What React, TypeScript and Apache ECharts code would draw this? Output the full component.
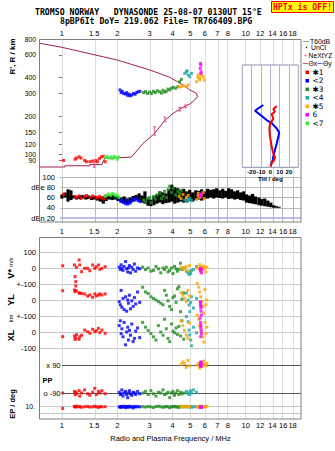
import React, { useEffect, useRef } from "react";
import * as echarts from "echarts";

// ---------------- tick labels ----------------
const FREQ_TICKS = [1, 1.5, 2, 3, 4, 5, 6, 7, 8, 10, 12, 14, 16, 18];
const HEIGHT_TICKS = [80, 90, 100, 120, 150, 200, 300, 400, 600, 800];
const DB_TICKS = [20, 40, 60, 80, 100];
const PP_TICKS = [90, -90];
const EP_TICKS = [0.1, 10];

const TITLE1 = "TROMSO NORWAY   DYNASONDE 25-08-07 0130UT 15°E";
const TITLE2 = "8pBP6It DoY= 219.062 File= TR766409.BPG";

// ---------------- N(h) profile (MHz, km) ----------------
const PROFILE_F = [0.76, 1.038, 1.038, 1.42, 1.42, 1.65, 1.71, 2.39, 2.76, 3.2, 3.63, 4.03, 4.38, 4.72, 4.96, 5.28, 5.46, 5.4, 4.96, 4.56, 3.86, 3.01, 2.0, 1.0, 0.76];
const PROFILE_H = [80, 80, 81.8, 81.8, 83.5, 83.5, 93.5, 95.6, 122, 147, 185, 210, 227, 240, 248, 267, 283, 301, 320, 350, 402, 458, 548, 689, 740];
const ERR_F = [1.5, 3.2, 3.63, 4.38, 4.72];
const ERR_LO = [79.6, 142, 181, 219, 232];
const ERR_HI = [86.4, 165, 196, 234, 244];

// ---------------- echoes: frequency, virtual height, amplitude ----------------
const TF1 = [1.02, 1.18, 1.2, 1.24, 1.27, 1.33, 1.36, 1.42, 1.47, 1.53, 1.56, 1.6, 1.64, 1.68, 1.72];
const TH1 = [90, 92, 94, 96, 94, 90, 88, 88, 89, 90, 88, 93, 96, 97, 88];
const TA1 = [66, 62, 60, 63, 58, 62, 64, 60, 63, 61, 59, 62, 60, 57, 63];
const TF2 = [2.07, 2.1, 2.13, 2.17, 2.22, 2.25, 2.28, 2.32, 2.35, 2.4, 2.45, 2.5, 2.55, 2.6, 2.66];
const TH2 = [320, 305, 312, 300, 297, 305, 290, 297, 288, 292, 300, 296, 305, 310, 312];
const TA2 = [56, 52, 54, 50, 48, 55, 47, 51, 49, 53, 57, 55, 58, 54, 52];
const TF3 = [2.78, 2.85, 2.92, 3.0, 3.07, 3.15, 3.22, 3.3, 3.4, 3.48, 3.55, 3.62, 3.7, 3.78, 3.86, 3.95, 4.03, 4.15, 4.28, 4.37, 4.47];
const TH3 = [305, 310, 300, 308, 300, 312, 305, 315, 310, 302, 318, 308, 312, 325, 320, 330, 335, 330, 339, 371, 387];
const TA3 = [55, 52, 58, 60, 50, 62, 57, 65, 68, 58, 63, 72, 60, 75, 82, 70, 78, 65, 72, 68, 74];
const TF4 = [4.66, 4.76, 4.8, 4.86, 4.96, 5.07];
const TH4 = [431, 444, 452, 419, 406, 431];
const TA4 = [55, 57, 52, 56, 58, 54];
const TF5 = [4.34, 4.45, 4.56, 4.76, 4.86, 5.4, 5.52, 5.63, 5.75, 5.87, 5.95, 5.63, 5.5];
const TH5 = [339, 339, 345, 339, 350, 371, 419, 394, 419, 406, 383, 383, 400];
const TA5 = [62, 58, 66, 60, 64, 56, 68, 62, 65, 70, 58, 60, 63];
const TF6 = [5.68, 5.7, 5.66, 5.72, 5.7];
const TH6 = [516, 501, 472, 444, 431];
const TA6 = [62, 66, 64, 67, 63];
const TF7 = [1.72, 1.76, 1.8, 1.84, 1.88, 1.92, 1.96, 2.0, 2.04];
const TH7 = [95, 97, 94, 96, 93, 97, 95, 92, 96];
const TA7 = [62, 65, 67, 64, 68, 66, 63, 65, 60];

const MODE_LABELS = ["✱1", "<2", "✱3", "<4", "✱5", "6", "<7"];
const LABEL_F = [1.39, 2.37, 4.11, 5.07, 5.35, 5.95, 1.88];
const LABEL_H = [88, 278, 320, 409, 343, 431, 90];
const LABEL_TEXT = ["✱1", "<2", "✱3", "<4", "✱5", "6", "<7"];

// ---------------- all-echo amplitude band (dB) ----------------
const DB_F = [1.0, 1.04, 1.08, 1.12, 1.16, 1.2, 1.25, 1.3, 1.35, 1.4, 1.45, 1.5, 1.56, 1.62, 1.68, 1.74, 1.81, 1.88, 1.95, 2.02, 2.1, 2.18, 2.26, 2.35, 2.44, 2.53, 2.63, 2.73, 2.83, 2.94, 3.05, 3.17, 3.29, 3.41, 3.54, 3.68, 3.82, 3.96, 4.11, 4.27, 4.43, 4.6, 4.78, 4.96, 5.15, 5.35, 5.55, 5.76, 5.98, 6.21, 6.45, 6.7, 6.95, 7.22, 7.5, 7.78, 8.08, 8.39, 8.71, 9.04, 9.39, 9.75, 10.1, 10.5, 10.9, 11.3, 11.8, 12.2, 12.7, 13.2, 13.7, 14.2, 14.7, 15.2];
const DB_LO = [58, 60, 52, 55, 58, 56, 57, 58, 56, 57, 55, 56, 54, 52, 48, 53, 56, 55, 56, 53, 50, 49, 47, 50, 52, 55, 53, 50, 48, 44, 43, 45, 48, 50, 47, 49, 50, 52, 48, 50, 52, 50, 51, 53, 52, 55, 56, 54, 57, 58, 60, 58, 60, 59, 58, 60, 57, 58, 56, 57, 55, 54, 50, 49, 48, 47, 45, 44, 43, 42, 41, 40, 40, 40];
const DB_HI = [66, 70, 76, 74, 64, 63, 64, 65, 62, 64, 62, 63, 61, 60, 62, 63, 64, 66, 64, 62, 60, 62, 58, 60, 63, 65, 68, 64, 72, 58, 56, 62, 66, 72, 70, 68, 76, 85, 80, 78, 74, 77, 72, 75, 70, 74, 73, 76, 72, 77, 75, 76, 78, 74, 77, 73, 78, 76, 72, 74, 70, 72, 66, 64, 67, 62, 60, 57, 58, 54, 50, 45, 43, 42];

// ---------------- velocities / location / polarization / EP ----------------
const LF1 = [1.01, 1.17, 1.18, 1.19, 1.2, 1.24, 1.25, 1.28, 1.33, 1.38, 1.42, 1.47, 1.51, 1.54, 1.58, 1.61, 1.65, 1.72];
const VS1 = [14, 19, -54, -85, 4, 50, 19, -23, -2, -2, -17, 19, -2, 8, 19, -8, -2, 8];
const YL1 = [58, 63, 52, 88, 58, 45, 42, 40, 38, 25, 31, 17, 38, 25, 31, 38, 31, 38];
const XL1 = [-29, -25, -46, -38, -17, -46, -30, -20, 12, 2, -8, 17, 2, 8, 23, -4, 12, -8];
const PP1 = [-90, -80, -100, -85, -95, -75, -110, -90, -70, -95, -105, -85, -60, -100, -80, -90, -75, -95];
const EP1 = [3, 12, 10, 8, 14, 9, 11, 7, 10, 12, 8, 9, 13, 10, 6, 11, 9, 10];

const LF2 = [2.05, 2.08, 2.1, 2.12, 2.15, 2.18, 2.22, 2.25, 2.28, 2.3, 2.33, 2.36, 2.4, 2.44, 2.48, 2.52, 2.58, 2.65];
const VS2 = [5, -10, 20, 0, -15, 10, 40, -5, -25, 0, 15, -30, 5, -10, 25, -20, 0, -5];
const YL2 = [-10, -30, 60, -45, 10, -60, 20, -70, 0, -20, 30, -55, -5, -40, 15, -25, 50, -15];
const XL2 = [40, 70, -10, 20, -30, 60, -80, 0, 30, -50, 10, -20, 50, -60, -40, 5, 25, -35];
const PP2 = [-85, -100, -95, -70, -110, -90, -80, -100, -120, -90, -75, -95, -105, -85, -90, -100, -80, -95];
const EP2 = [10, 6, 12, 9, 8, 14, 5, 11, 10, 7, 13, 9, 10, 4, 12, 8, 11, 9];

const LF3 = [2.75, 2.85, 2.95, 3.05, 3.15, 3.25, 3.35, 3.45, 3.55, 3.62, 3.7, 3.78, 3.86, 3.95, 4.02, 4.1, 4.18, 4.25, 4.33, 4.42, 4.5, 4.6];
const VS3 = [5, -10, 0, -20, -15, 10, -5, -30, 0, -10, 5, -25, -15, 0, -35, 10, -5, -20, -8, 30, -10, 0];
const YL3 = [80, 50, 40, 20, 10, 0, -10, -20, -30, 60, 30, -5, -40, -60, 15, 25, -15, 70, 83, -73, 5, 45];
const XL3 = [60, 30, 10, -10, -30, -50, 40, 0, -20, 80, 20, -40, -60, 50, 5, -5, 25, -15, 35, -25, 70, -45];
const PP3 = [-90, -80, -100, -75, -95, -110, -85, -90, -70, -100, -95, -85, -120, -90, -80, -105, -90, -75, -100, -85, -95, -90];
const EP3 = [10, 8, 12, 9, 6, 11, 14, 10, 7, 9, 12, 10, 5, 11, 9, 13, 8, 10, 6, 12, 9, 10];

const LF4 = [4.76, 4.86, 4.92, 4.96, 5.02, 5.07, 5.2, 5.4];
const VS4 = [-20, -30, -40, -25, -35, -15, -10, 10];
const YL4 = [42, 0, -31, -73, -15, 20, -50, 10];
const XL4 = [96, 64, 12, -19, -50, -86, 30, -5];
const PP4 = [-80, -95, -85, -100, -75, -90, -70, -85];
const EP4 = [10, 8, 12, 9, 11, 7, 10, 9];

const LF5 = [4.45, 4.55, 4.65, 4.75, 4.85, 4.95, 5.45, 5.55, 5.62, 5.7, 5.78, 5.85, 5.92, 6.0, 6.08, 6.15];
const VS5 = [5, -10, 0, 10, -20, 15, 0, -5, 20, -15, 8, -10, 12, 0, -25, 5];
const YL5 = [45, 30, 10, -10, 60, 25, 104, 80, 50, 20, -10, -40, -81, 65, -30, 0];
const XL5 = [70, 40, 10, -20, -40, 55, 106, 80, 40, 20, 0, -30, -63, 60, -10, 30];
const PP5 = [95, 110, 100, 75, 120, 85, 90, 100, 70, 105, 80, 95, 115, 90, 85, 100];
const EP5 = [10, 12, 8, 14, 9, 11, 10, 7, 13, 9, 12, 10, 8, 11, 9, 14];

const LF6 = [5.66, 5.68, 5.7, 5.72, 5.74, 5.69, 5.71];
const VS6 = [-5, 0, -15, -10, -31, -20, -8];
const YL6 = [-10, -30, -50, -70, -94, -20, -40];
const XL6 = [87, 60, 30, 10, -10, -29, 45];
const PP6 = [90, 100, 80, 110, 95, 85, 105];
const EP6 = [8, 10, 6, 9, 7, 8, 9];

// ---------------- tilt inset (deg vs km) ----------------
const TILT_X_H = [240, 226, 216, 207, 192, 181, 173, 160, 138, 115, 102, 96, 91, 85.5, 80.4];
const TILT_X = [6.8, 3.2, 5, 1.5, 3.2, 1.5, -0.3, -1, -0.3, 1.5, 3.2, 5, 4.3, 1.5, 0.4];
const TILT_Y_H = [244, 230, 220, 210, 200, 186, 176, 160, 148, 138, 122.5, 108.6, 96.3, 90.7, 82.9];
const TILT_Y = [-7.5, -12.8, -16.4, -12.8, -9.2, -3.9, 1.5, 6.9, 9.6, 8.6, 6.9, 5, 3.2, 2.6, 0.4];

// ---------------- colours ----------------
const RED = "#ff0000";
const BLUE = "#0000ff";
const GREEN = "#228b22";
const TEAL = "#1fa8a8";
const ORANGE = "#ffa500";
const MAGENTA = "#ff00ff";
const LIME = "#33ee33";
const MODE_COLORS = [RED, BLUE, GREEN, TEAL, ORANGE, MAGENTA, LIME];

// ---------------- layout helpers ----------------
const LOG = (v: number) => Math.log10(v);
const F_MIN = LOG(0.76);
const F_MAX = LOG(20);
const PLOT_L = 40;
const PLOT_R = 301;
const fMinAt = (px: number) => F_MIN + ((px - PLOT_L) * (F_MAX - F_MIN)) / (PLOT_R - PLOT_L);
const H_MAX = LOG(800);
const H_PX = 128; // px per decade of height
const H_MIN = H_MAX - 138 / H_PX;
const DB_MIN = 100 - 45 / 0.5125;
const TILT_H_MIN = H_MAX - 128.3 / H_PX;
const TILT_H_MAX = H_MAX - 26 / H_PX;

const fmtF = (v: number) => String(Math.round(Math.pow(10, v) * 10) / 10);
const AX = { fontSize: 7.5, color: "#000", fontFamily: "Liberation Sans" };

function pts(fs: number[], ys: number[], ty: (v: number) => number = (v) => v) {
  return fs.map((f, i) => [LOG(f), ty(ys[i])]);
}

function sc(k: number, data: number[][], color: string, size = 3) {
  return {
    type: "scatter",
    xAxisIndex: k,
    yAxisIndex: k,
    data,
    symbol: "rect",
    symbolSize: size,
    itemStyle: { color },
    z: 6,
    clip: false,
    silent: true,
  };
}

function lines(k: number, items: any[], color: string) {
  return {
    type: "scatter",
    xAxisIndex: k,
    yAxisIndex: k,
    data: [],
    silent: true,
    markLine: {
      silent: true,
      symbol: ["none", "none"],
      label: { show: false },
      lineStyle: { color, type: "solid", width: 1 },
      emphasis: { disabled: true },
      animation: false,
      data: items,
    },
  };
}

function txt(x: number, y: number, text: string, extra: any = {}, rotation = 0) {
  return {
    type: "text",
    x,
    y,
    rotation,
    z: 30,
    silent: true,
    style: {
      text,
      fontSize: 7.5,
      fontFamily: "Liberation Sans",
      fill: "#000",
      align: "left",
      verticalAlign: "middle",
      ...extra,
    },
  };
}

function hline(x1: number, x2: number, y: number, color: string, w = 1) {
  return { type: "line", z: 30, silent: true, shape: { x1, y1: y, x2, y2: y }, style: { stroke: color, lineWidth: w } };
}

function buildOption() {
  const TOP = [
    [TF1, TH1, TA1],
    [TF2, TH2, TA2],
    [TF3, TH3, TA3],
    [TF4, TH4, TA4],
    [TF5, TH5, TA5],
    [TF6, TH6, TA6],
    [TF7, TH7, TA7],
  ];
  const LOW = [
    [LF1, VS1, YL1, XL1, PP1, EP1],
    [LF2, VS2, YL2, XL2, PP2, EP2],
    [LF3, VS3, YL3, XL3, PP3, EP3],
    [LF4, VS4, YL4, XL4, PP4, EP4],
    [LF5, VS5, YL5, XL5, PP5, EP5],
    [LF6, VS6, YL6, XL6, PP6, EP6],
  ];

  const vItems = FREQ_TICKS.map((f) => ({ xAxis: LOG(f) }));
  const series: any[] = [];
  series.push(lines(0, vItems, "#dcdcdc"));
  series.push(
    lines(
      1,
      [
        ...vItems,
        ...DB_TICKS.map((d) =>
          d === 20 ? { yAxis: d, lineStyle: { color: "#a8a8ee", width: 1.5, type: "solid" } } : { yAxis: d }
        ),
      ],
      "#b8b8b8"
    )
  );
  series.push(lines(2, vItems, "#dcdcdc"));
  series.push(lines(6, PP_TICKS.map((p) => ({ yAxis: p })), "#555555"));
  series.push(lines(7, EP_TICKS.map((e) => ({ yAxis: LOG(e) })), "#c4c4c4"));

  // profile
  series.push({
    type: "line",
    xAxisIndex: 0,
    yAxisIndex: 0,
    data: pts(PROFILE_F, PROFILE_H, LOG),
    symbol: "none",
    lineStyle: { color: "#a0204a", width: 1 },
    z: 6,
    silent: true,
  });
  // error bars
  series.push({
    type: "custom",
    xAxisIndex: 0,
    yAxisIndex: 0,
    z: 7,
    silent: true,
    data: ERR_F.map((f, i) => [LOG(f), LOG(ERR_LO[i]), LOG(ERR_HI[i])]),
    renderItem: (_p: any, api: any) => {
      const a = api.coord([api.value(0), api.value(1)]);
      const b = api.coord([api.value(0), api.value(2)]);
      const st = { stroke: "#e0508a", lineWidth: 1 };
      return {
        type: "group",
        children: [
          { type: "line", shape: { x1: a[0], y1: a[1], x2: b[0], y2: b[1] }, style: st },
          { type: "line", shape: { x1: a[0] - 1.5, y1: a[1], x2: a[0] + 1.5, y2: a[1] }, style: st },
          { type: "line", shape: { x1: b[0] - 1.5, y1: b[1], x2: b[0] + 1.5, y2: b[1] }, style: st },
        ],
      };
    },
  });
  // echoes in ionogram
  TOP.forEach((m, i) => {
    series.push(sc(0, pts(m[0], m[1], LOG), MODE_COLORS[i]));
  });
  // mode labels
  series.push({
    type: "scatter",
    xAxisIndex: 0,
    yAxisIndex: 0,
    z: 8,
    silent: true,
    symbolSize: 1,
    itemStyle: { opacity: 0 },
    data: LABEL_F.map((f, i) => ({ value: [LOG(f), LOG(LABEL_H[i])], name: LABEL_TEXT[i] })),
    label: {
      show: true,
      position: "right",
      distance: 0,
      formatter: "{b}",
      fontSize: 8,
      fontFamily: "DejaVu Sans",
      color: "#000",
    },
  });
  // black amplitude band
  series.push({
    type: "custom",
    xAxisIndex: 1,
    yAxisIndex: 1,
    z: 6,
    silent: true,
    data: DB_F.map((f, i) => [LOG(f), DB_LO[i], DB_HI[i]]),
    renderItem: (_p: any, api: any) => {
      const a = api.coord([api.value(0), api.value(2)]);
      const b = api.coord([api.value(0), api.value(1)]);
      return {
        type: "rect",
        shape: { x: a[0] - 1.6, y: a[1], width: 3.2, height: b[1] - a[1] },
        style: { fill: "#000" },
      };
    },
  });
  TOP.forEach((m, i) => {
    series.push(sc(1, pts(m[0], m[2]), MODE_COLORS[i]));
  });
  LOW.forEach((m, i) => {
    const c = MODE_COLORS[i];
    series.push(sc(3, pts(m[0], m[1]), c));
    series.push(sc(4, pts(m[0], m[2]), c));
    series.push(sc(5, pts(m[0], m[3]), c));
    series.push(sc(6, pts(m[0], m[4]), c));
    series.push(sc(7, pts(m[0], m[5], LOG), c));
  });
  // tilt inset
  series.push({
    type: "line",
    xAxisIndex: 8,
    yAxisIndex: 8,
    data: TILT_Y.map((t, i) => [t, LOG(TILT_Y_H[i])]),
    symbol: "none",
    lineStyle: { color: BLUE, width: 2 },
    z: 12,
    silent: true,
  });
  series.push({
    type: "line",
    xAxisIndex: 8,
    yAxisIndex: 8,
    data: TILT_X.map((t, i) => [t, LOG(TILT_X_H[i])]),
    symbol: "none",
    lineStyle: { color: RED, width: 2 },
    z: 13,
    silent: true,
  });

  const grids = [
    { left: 40, top: 39, width: 261, height: 138 },
    { left: 60, top: 177, width: 241, height: 45 },
    { left: 40, top: 237, width: 261, height: 182 },
    { left: 40, top: 252, width: 261, height: 32 },
    { left: 40, top: 284, width: 261, height: 32 },
    { left: 40, top: 316, width: 261, height: 32 },
    { left: 62, top: 365, width: 239, height: 28 },
    { left: 40, top: 406.7, width: 261, height: 6.6 },
    { left: 242.3, top: 65, width: 56, height: 102.3, show: true, backgroundColor: "#ffffff", borderColor: "#8c8cb0", borderWidth: 1, z: 10 },
  ].map((g) => ({ outerBoundsMode: "none", containLabel: false, ...g }));

  const hidden = (k: number, min: number, max: number) => ({ gridIndex: k, type: "value", min, max, show: false });

  const xAxis: any[] = [
    {
      gridIndex: 0,
      type: "value",
      min: F_MIN,
      max: F_MAX,
      position: "top",
      axisLine: { show: false },
      axisTick: { show: false },
      splitLine: { show: false },
      axisLabel: { ...AX, margin: 2, customValues: FREQ_TICKS.map(LOG), formatter: fmtF },
    },
    {
      gridIndex: 1,
      type: "value",
      min: fMinAt(60),
      max: F_MAX,
      axisLine: { show: false },
      axisTick: { show: false },
      splitLine: { show: false },
      axisLabel: { ...AX, margin: 5, customValues: FREQ_TICKS.map(LOG), formatter: fmtF },
    },
    {
      gridIndex: 2,
      type: "value",
      min: F_MIN,
      max: F_MAX,
      axisLine: { show: false },
      axisTick: { show: false },
      splitLine: { show: false },
      axisLabel: { ...AX, margin: 2, customValues: FREQ_TICKS.map(LOG), formatter: fmtF },
      name: "Radio and Plasma Frequency / MHz",
      nameLocation: "middle",
      nameGap: 15.5,
      nameTextStyle: { fontSize: 7.5, color: "#000", fontFamily: "Liberation Sans" },
    },
    hidden(3, F_MIN, F_MAX),
    hidden(4, F_MIN, F_MAX),
    hidden(5, F_MIN, F_MAX),
    hidden(6, fMinAt(62), F_MAX),
    hidden(7, F_MIN, F_MAX),
    {
      gridIndex: 8,
      type: "value",
      min: -30,
      max: 30,
      interval: 10,
      z: 11,
      axisLine: { show: false },
      axisTick: { show: false },
      splitLine: { show: true, lineStyle: { color: "#b4b4c8", width: 1 } },
      axisLabel: {
        fontSize: 6,
        fontWeight: "bold",
        color: "#000",
        fontFamily: "Liberation Sans",
        margin: 1.5,
        formatter: (v: number) => (Math.abs(v) === 30 ? "" : String(v)),
      },
      name: "Tilt / deg",
      nameLocation: "middle",
      nameGap: 8,
      nameTextStyle: { fontSize: 6, fontWeight: "bold", color: "#000", fontFamily: "Liberation Sans" },
    },
  ];

  const velLabel = (top: string, bottom: string) => (v: number) =>
    v === 100 ? top : v === 0 ? "0" : bottom;
  const velAxis = (k: number, fmt: (v: number) => string) => ({
    gridIndex: k,
    type: "value",
    min: -100,
    max: 100,
    interval: 100,
    axisLine: { show: false },
    axisTick: { show: false },
    splitLine: { show: true, lineStyle: { color: "#c8c8c8", width: 1 } },
    axisLabel: { ...AX, margin: 4, formatter: fmt },
  });

  const yAxis: any[] = [
    {
      gridIndex: 0,
      type: "value",
      min: H_MIN,
      max: H_MAX,
      axisLine: { show: false },
      axisTick: { show: true, length: 3, customValues: HEIGHT_TICKS.map(LOG), lineStyle: { color: "#777" } },
      splitLine: { show: false },
      axisLabel: {
        ...AX,
        fontSize: 6.8,
        lineHeight: 6,
        margin: 4,
        customValues: HEIGHT_TICKS.map(LOG),
        formatter: (v: number) => String(Math.round(Math.pow(10, v))),
      },
    },
    {
      gridIndex: 1,
      type: "value",
      min: DB_MIN,
      max: 100,
      axisLine: { show: false },
      axisTick: { show: false },
      splitLine: { show: false },
      axisLabel: {
        ...AX,
        margin: 5,
        customValues: DB_TICKS,
        formatter: (v: number) => (v === 80 ? "dBe 80" : v === 20 ? "dBn 20" : String(v)),
      },
    },
    hidden(2, 0, 1),
    velAxis(3, velLabel("100", "+-100")),
    velAxis(4, velLabel("", "+-100")),
    velAxis(5, velLabel("", "-100")),
    {
      gridIndex: 6,
      type: "value",
      min: -90,
      max: 90,
      axisLine: { show: false },
      axisTick: { show: false },
      splitLine: { show: false },
      axisLabel: { ...AX, margin: 1.5, customValues: PP_TICKS, formatter: (v: number) => (v > 0 ? "x 90" : "o -90") },
    },
    {
      gridIndex: 7,
      type: "value",
      min: -1,
      max: 1,
      axisLine: { show: false },
      axisTick: { show: false },
      splitLine: { show: false },
      axisLabel: { ...AX, fontSize: 6.8, lineHeight: 6, margin: 5, customValues: EP_TICKS.map(LOG), formatter: (v: number) => (v > 0 ? "10." : "0.1") },
    },
    hidden(8, TILT_H_MIN, TILT_H_MAX),
  ];

  const mono = { fontFamily: "DejaVu Sans Mono", fontSize: 8.2, fontWeight: "bold" };
  const LEG = { fontSize: 6.8, lineHeight: 6 };
  const graphic: any[] = [
    // frames
    { type: "rect", z: 25, silent: true, shape: { x: 39.5, y: 39.5, width: 261.5, height: 182.5 }, style: { fill: "none", stroke: "#808080", lineWidth: 1 } },
    { type: "rect", z: 25, silent: true, shape: { x: 39.5, y: 237.5, width: 261.5, height: 181.5 }, style: { fill: "none", stroke: "#808080", lineWidth: 1 } },
    // title
    txt(35, 12, TITLE1, mono),
    txt(60, 20.5, TITLE2, mono),
    { type: "rect", z: 29, silent: true, shape: { x: 271.5, y: 1.5, width: 62, height: 11 }, style: { fill: "#ffff00", stroke: "#ff0000", lineWidth: 1 } },
    txt(302.5, 7.3, "HPTx is OFF!", { ...mono, fill: "#ff0000", align: "center" }),
    // axis names
    txt(12.5, 56.5, "R', R / km", { fontWeight: "bold", fontSize: 8, align: "center" }, Math.PI / 2),
    txt(10.5, 268, "{a|V*} {b|m/s}", { align: "center", rich: { a: { fontSize: 9, fontWeight: "bold", fontFamily: "Liberation Sans" }, b: { fontSize: 6, fontFamily: "Liberation Sans" } } }, Math.PI / 2),
    txt(10.5, 300, "YL", { fontWeight: "bold", fontSize: 9, align: "center" }, Math.PI / 2),
    txt(10.5, 318.5, "km", { fontSize: 6, align: "center" }, Math.PI / 2),
    txt(10.5, 335.5, "XL", { fontWeight: "bold", fontSize: 9, align: "center" }, Math.PI / 2),
    txt(12.5, 404, "EP / deg", { fontWeight: "bold", fontSize: 7.5, align: "center" }, Math.PI / 2),
    txt(42.5, 380, "PP", { fontWeight: "bold", fontSize: 7.5 }),
    // legend
    hline(303, 309, 41.5, "#999999"),
    txt(310, 41.5, "T60dB", LEG),
    { type: "circle", z: 30, silent: true, shape: { cx: 306.5, cy: 47.5, r: 0.7 }, style: { fill: "#000" } },
    txt(311, 47.8, "UnCl", LEG),
    txt(305.5, 55, "+", { fontSize: 8, lineHeight: 6, fill: "#ff5aa0", align: "center" }),
    txt(308.5, 55, "NeXtYZ", LEG),
    hline(303, 308, 63.5, "#e0507a"),
    txt(308.5, 63.5, "Θx", LEG),
    hline(317.5, 322.5, 63.5, "#6060e0"),
    txt(323, 63.5, "Θy", LEG),
  ];
  MODE_LABELS.forEach((lab, i) => {
    const y = 72.3 + i * 8.5;
    graphic.push({ type: "rect", z: 30, silent: true, shape: { x: 305.5, y: y - 1.75, width: 3.5, height: 3.5 }, style: { fill: MODE_COLORS[i] } });
    graphic.push(txt(312.5, y, lab, { fontSize: 7.5, fontFamily: "DejaVu Sans" }));
  });

  return {
    animation: false,
    backgroundColor: "#ffffff",
    textStyle: { fontFamily: "Liberation Sans" },
    grid: grids,
    xAxis,
    yAxis,
    series,
    graphic,
  };
}

export default function App() {
  const ref = useRef<HTMLDivElement | null>(null);
  useEffect(() => {
    if (!ref.current) return;
    const chart = echarts.init(ref.current, null, { renderer: "svg" });
    chart.setOption(buildOption() as any);
    return () => chart.dispose();
  }, []);
  return (
    <div
      ref={ref}
      style={{ position: "absolute", left: 0, top: 0, width: 335, height: 451, background: "#fff" }}
    />
  );
}
